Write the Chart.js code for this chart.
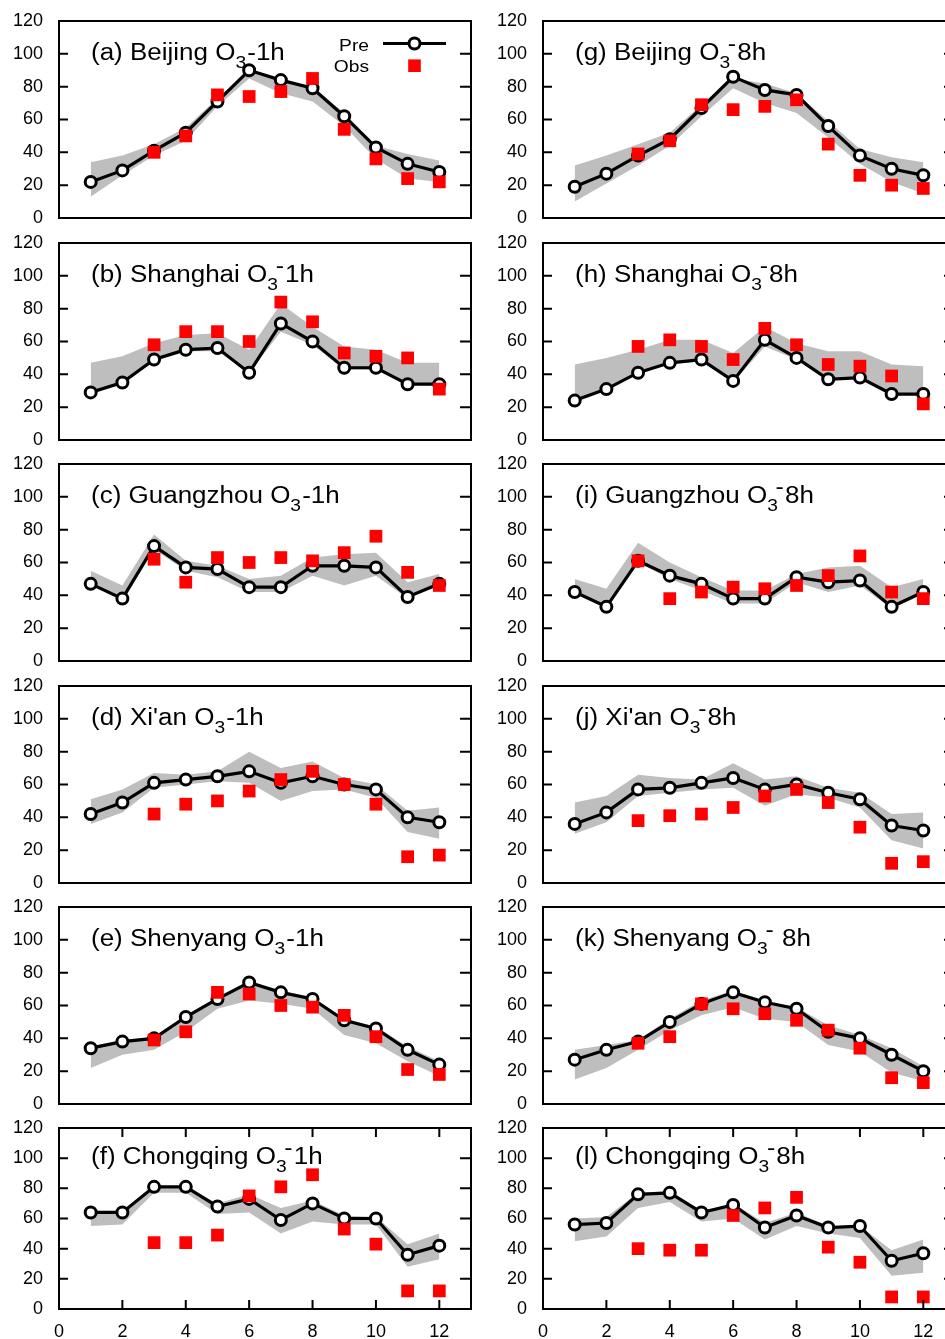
<!DOCTYPE html>
<html>
<head>
<meta charset="utf-8">
<script src="https://cdn.jsdelivr.net/npm/chart.js@4.4.1/dist/chart.umd.min.js"></script>
<style>
  html, body { margin:0; padding:0; background:#fff; }
  body { width:945px; height:1339px; overflow:hidden; position:relative; }
  canvas { position:absolute; }
</style>
</head>
<body>
<script>
//AXES
var months = [1, 2, 3, 4, 5, 6, 7, 8, 9, 10, 11, 12];
var xTicks = [0, 2, 4, 6, 8, 10, 12];
var yTicks = [0, 20, 40, 60, 80, 100, 120];

//>>(a) Beijing 1h
var pre_a = [22, 29, 41, 52, 71, 90, 84, 79, 62, 43, 33, 28];
var obs_a = [null, null, 40, 50, 75, 74, 77, 85, 54, 36, 24, 22];
var hi_a  = [34, 38, 45, 55, 73, 90, 84, 80, 64, 44, 39, 35];
var lo_a  = [13, 26, 38, 47, 68, 85, 76, 71, 56, 36, 24, 22];
//>>(b) Shanghai 1h
var pre_b = [29, 35, 49, 55, 56, 41, 71, 60, 44, 44, 34, 34];
var obs_b = [null, null, 58, 66, 66, 60, 84, 72, 53, 51, 50, 31];
var hi_b  = [47, 51, 59, 64, 65, 55, 83, 69, 57, 55, 47, 47];
var lo_b  = [29, 35, 48, 54, 54, 41, 66, 58, 43, 43, 34, 33];
//>>(c) Guangzhou 1h
var pre_c = [47, 38, 70, 57, 56, 45, 45, 58, 58, 57, 39, 47];
var obs_c = [null, null, 62, 48, 63, 60, 63, 61, 66, 76, 54, 46];
var hi_c  = [55, 46, 77, 61, 58, 50, 52, 63, 65, 66, 48, 53];
var lo_c  = [47, 38, 68, 55, 51, 42, 42, 52, 46, 52, 38, 46];
//>>(d) Xi'an 1h
var pre_d = [42, 49, 61, 63, 65, 68, 61, 65, 60, 57, 40, 37];
var obs_d = [null, null, 42, 48, 50, 56, 63, 68, 60, 48, 16, 17];
var hi_d  = [51, 57, 67, 66, 68, 80, 70, 74, 64, 60, 44, 46];
var lo_d  = [36, 43, 58, 60, 62, 61, 50, 56, 57, 52, 31, 27];
//>>(e) Shenyang 1h
var pre_e = [34, 38, 40, 53, 64, 74, 68, 64, 51, 46, 33, 24];
var obs_e = [null, null, 39, 44, 68, 67, 60, 59, 54, 41, 21, 18];
var hi_e  = [35, 39, 41, 54, 65, 74, 69, 65, 52, 47, 35, 26];
var lo_e  = [22, 30, 33, 44, 58, 63, 61, 58, 42, 37, 26, 17];
//>>(f) Chongqing 1h
var pre_f = [64, 64, 81, 81, 68, 73, 59, 70, 60, 60, 36, 42];
var obs_f = [null, null, 44, 44, 49, 75, 81, 89, 53, 43, 12, 12];
var hi_f  = [64, 64, 80, 80, 70, 76, 67, 72, 62, 61, 43, 50];
var lo_f  = [55, 56, 77, 77, 63, 64, 50, 58, 56, 56, 28, 33];
//>>(g) Beijing 8h
var pre_g = [19, 27, 38, 48, 67, 86, 78, 75, 56, 38, 30, 26];
var obs_g = [null, null, 39, 47, 69, 66, 68, 72, 45, 26, 20, 18];
var hi_g  = [32, 38, 45, 52, 69, 85, 82, 76, 59, 42, 37, 34];
var lo_g  = [10, 21, 32, 44, 62, 79, 70, 64, 49, 33, 22, 15];
//>>(h) Shanghai 8h
var pre_h = [24, 31, 41, 47, 49, 36, 61, 50, 37, 38, 28, 28];
var obs_h = [null, null, 57, 61, 57, 49, 68, 58, 46, 45, 39, 22];
var hi_h  = [46, 50, 55, 61, 61, 53, 69, 59, 54, 54, 46, 45];
var lo_h  = [24, 31, 41, 46, 48, 35, 57, 49, 37, 38, 28, 27];
//>>(i) Guangzhou 8h
var pre_i = [42, 33, 61, 52, 47, 38, 38, 51, 48, 49, 33, 42];
var obs_i = [null, null, 61, 38, 42, 45, 44, 46, 52, 64, 42, 38];
var hi_i  = [50, 44, 72, 60, 51, 43, 43, 53, 57, 58, 45, 50];
var lo_i  = [42, 32, 60, 50, 43, 35, 35, 48, 42, 46, 32, 41];
//>>(j) Xi'an 8h
var pre_j = [36, 43, 57, 58, 61, 64, 57, 60, 55, 51, 35, 32];
var obs_j = [null, null, 38, 41, 42, 46, 53, 57, 49, 34, 12, 13];
var hi_j  = [49, 53, 66, 64, 63, 73, 63, 65, 58, 55, 42, 43];
var lo_j  = [30, 37, 53, 55, 57, 58, 47, 54, 52, 46, 26, 21];
//>>(k) Shenyang 8h
var pre_k = [27, 33, 38, 50, 61, 68, 62, 58, 44, 40, 30, 20];
var obs_k = [null, null, 37, 41, 61, 58, 55, 51, 45, 34, 16, 13];
var hi_k  = [33, 36, 39, 52, 63, 69, 63, 59, 48, 42, 34, 23];
var lo_k  = [15, 22, 33, 45, 54, 59, 52, 50, 36, 32, 19, 14];
//>>(l) Chongqing 8h
var pre_l = [56, 57, 76, 77, 64, 69, 54, 62, 54, 55, 32, 37];
var obs_l = [null, null, 40, 39, 39, 62, 67, 74, 41, 31, 8, 8];
var hi_l  = [60, 61, 77, 78, 65, 70, 57, 64, 55, 55, 39, 46];
var lo_l  = [45, 48, 67, 71, 58, 60, 46, 55, 50, 47, 22, 24];

//panel titles
var names = ["(a) Beijing", "(b) Shanghai", "(c) Guangzhou", "(d) Xi'an", "(e) Shenyang", "(f) Chongqing",
             "(g) Beijing", "(h) Shanghai", "(i) Guangzhou", "(j) Xi'an", "(k) Shenyang", "(l) Chongqing"];
var tails = ["1h", "1h", "1h", "1h", "1h", "1h", "8h", "8h", "8h", "8h", " 8h", "8h"];
var raised = [false, true, false, false, false, true, true, true, true, true, true, true];

var preAll = [pre_a, pre_b, pre_c, pre_d, pre_e, pre_f, pre_g, pre_h, pre_i, pre_j, pre_k, pre_l];
var obsAll = [obs_a, obs_b, obs_c, obs_d, obs_e, obs_f, obs_g, obs_h, obs_i, obs_j, obs_k, obs_l];
var hiAll  = [hi_a, hi_b, hi_c, hi_d, hi_e, hi_f, hi_g, hi_h, hi_i, hi_j, hi_k, hi_l];
var loAll  = [lo_a, lo_b, lo_c, lo_d, lo_e, lo_f, lo_g, lo_h, lo_i, lo_j, lo_k, lo_l];

var FONT = '"Liberation Sans", Arial, sans-serif';
var plotTops = [21, 243, 464, 686, 907, 1128];

function toPts(vals) {
  var pts = [];
  for (var k = 0; k < months.length; k++) {
    if (vals[k] != null) pts.push({x: months[k], y: vals[k]});
  }
  return pts;
}

//title with O3 subscript (and the raised minus some panels have)
function drawTitle(ctx, x, y, name, tail, up) {
  ctx.save();
  ctx.translate(x, y);
  ctx.scale(1.13, 1);
  ctx.fillStyle = '#000';
  ctx.textBaseline = 'alphabetic';
  ctx.textAlign = 'left';
  ctx.font = '23px ' + FONT;
  var s = name + ' O';
  ctx.fillText(s, 0, 0);
  var w = ctx.measureText(s).width;
  ctx.font = '17px ' + FONT;
  ctx.fillText('3', w, 8);
  w += ctx.measureText('3').width;
  if (up) {
    ctx.font = '22px ' + FONT;
    ctx.fillText('-', w - 2, -9);
    w += ctx.measureText('-').width - 1;
    ctx.font = '23px ' + FONT;
    ctx.fillText(tail, w, 0);
  } else {
    ctx.font = '23px ' + FONT;
    ctx.fillText('-' + tail, w + 1, 0);
  }
  ctx.restore();
}

function drawLegend(ctx, a) {
  ctx.save();
  ctx.fillStyle = '#000';
  ctx.textAlign = 'right';
  ctx.textBaseline = 'alphabetic';
  ctx.font = '17px ' + FONT;
  ctx.save(); ctx.translate(a.left + 310, a.top + 30); ctx.scale(1.13, 1); ctx.fillText('Pre', 0, 0); ctx.restore();
  ctx.save(); ctx.translate(a.left + 310, a.top + 51); ctx.scale(1.13, 1); ctx.fillText('Obs', 0, 0); ctx.restore();
  //line + circle
  ctx.strokeStyle = '#000';
  ctx.lineWidth = 3;
  ctx.beginPath();
  ctx.moveTo(a.left + 324, a.top + 22.5);
  ctx.lineTo(a.left + 387, a.top + 22.5);
  ctx.stroke();
  ctx.beginPath();
  ctx.arc(a.left + 355.5, a.top + 22.5, 5.5, 0, Math.PI * 2);
  ctx.fillStyle = '#fff';
  ctx.fill();
  ctx.stroke();
  //square
  ctx.fillStyle = '#ff0000';
  ctx.fillRect(a.left + 355.5 - 6.3, a.top + 44.7 - 6.3, 12.6, 12.6);
  ctx.restore();
}

//frame, inward ticks, title, legend
var framePlugin = {
  id: 'frame',
  afterDatasetsDraw: function(chart) {
    var ctx = chart.ctx, a = chart.chartArea;
    var idx = chart.options.plugins.frame.idx;
    var ys = chart.scales.y, xs = chart.scales.x;
    ctx.save();
    ctx.strokeStyle = '#000';
    ctx.lineWidth = 2;
    ctx.strokeRect(a.left, a.top, a.right - a.left, a.bottom - a.top);
    ctx.beginPath();
    yTicks.forEach(function(v) {
      var py = ys.getPixelForValue(v);
      ctx.moveTo(a.left, py); ctx.lineTo(a.left + 9, py);
      ctx.moveTo(a.right, py); ctx.lineTo(a.right - 11, py);
    });
    if (idx % 6 == 5) {
      xTicks.forEach(function(v) {
        var px = xs.getPixelForValue(v);
        ctx.moveTo(px, a.bottom); ctx.lineTo(px, a.bottom - 9);
        ctx.moveTo(px, a.top); ctx.lineTo(px, a.top + 9);
      });
    }
    ctx.stroke();
    ctx.restore();
    var h = a.bottom - a.top;
    drawTitle(ctx, a.left + 32, a.top + 0.2 * h, names[idx], tails[idx], raised[idx]);
    if (idx == 0) drawLegend(ctx, a);
  }
};

function makePanel(i) {
  var col = i < 6 ? 0 : 1;
  var row = i % 6;
  var last = row == 5;
  var plotH = last ? 181 : 198;
  var cv = document.createElement('canvas');
  cv.width = 480;
  cv.height = last ? 14 + plotH + 30 : 14 + plotH + 8;
  cv.style.left = (col == 0 ? 0 : 484) + 'px';
  cv.style.top = (plotTops[row] - 14) + 'px';
  document.body.appendChild(cv);

  new Chart(cv.getContext('2d'), {
    type: 'line',
    data: {
      datasets: [{
        label: 'Obs',
        data: toPts(obsAll[i]),
        showLine: false,
        pointStyle: 'rect',
        pointRadius: 9,
        pointBorderWidth: 0,
        pointBackgroundColor: '#ff0000',
        backgroundColor: '#ff0000',
        borderWidth: 0
      }, {
        label: 'Pre',
        data: toPts(preAll[i]),
        borderColor: '#000',
        borderWidth: 3.2,
        tension: 0,
        pointStyle: 'circle',
        pointRadius: 5.5,
        pointBorderWidth: 3,
        pointBorderColor: '#000',
        pointBackgroundColor: '#fff'
      }, {
        label: 'hi',
        data: toPts(hiAll[i]),
        borderWidth: 0,
        pointRadius: 0,
        tension: 0,
        fill: '+1',
        backgroundColor: '#bebebe'
      }, {
        label: 'lo',
        data: toPts(loAll[i]),
        borderWidth: 0,
        pointRadius: 0,
        tension: 0,
        fill: false
      }]
    },
    options: {
      responsive: false,
      animation: false,
      devicePixelRatio: 1,
      layout: { padding: { top: 14, right: 8, bottom: last ? 0 : 8, left: 0 } },
      plugins: {
        legend: { display: false },
        tooltip: { enabled: false },
        frame: { idx: i }
      },
      scales: {
        x: {
          type: 'linear',
          min: 0,
          max: 13,
          display: last,
          afterBuildTicks: function(s) { s.ticks = xTicks.map(function(v) { return {value: v}; }); },
          afterFit: function(s) { s.height = last ? 30 : 0; s.paddingTop = 0; s.paddingBottom = 0; },
          ticks: { color: '#000', font: { family: FONT, size: 18 }, padding: 12, maxRotation: 0 },
          grid: { display: false, drawTicks: false },
          border: { display: false }
        },
        y: {
          min: 0,
          max: 120,
          afterBuildTicks: function(s) { s.ticks = yTicks.map(function(v) { return {value: v}; }); },
          afterFit: function(s) { s.width = 59; s.paddingTop = 0; s.paddingBottom = 0; },
          ticks: { color: '#000', font: { family: FONT, size: 18 }, padding: 16 },
          grid: { display: false, drawTicks: false },
          border: { display: false }
        }
      }
    },
    plugins: [framePlugin]
  });
}

for (var i = 0; i < 12; i++) makePanel(i);
</script>
</body>
</html>
